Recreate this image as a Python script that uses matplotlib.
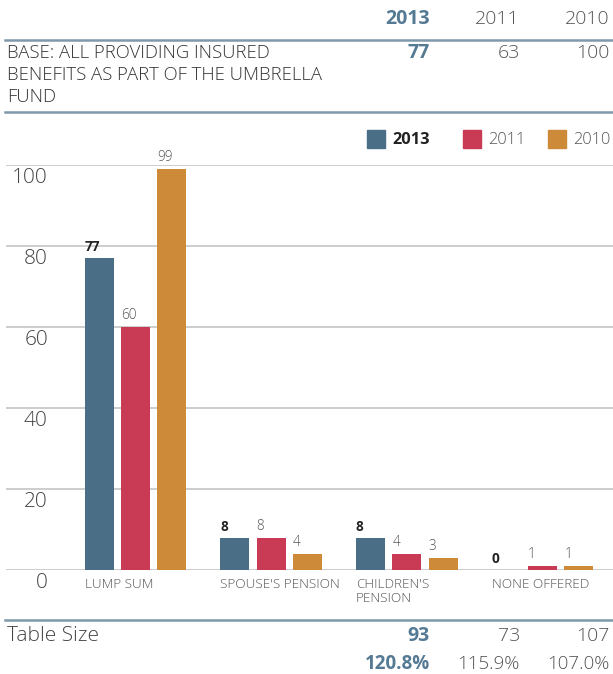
import matplotlib.pyplot as plt
from matplotlib.lines import Line2D
from matplotlib.patches import Rectangle
import numpy as np

plt.rcParams['font.family'] = ['Open Sans', 'DejaVu Sans']

# data
categories = ["LUMP SUM", "SPOUSE'S PENSION", "CHILDREN'S\nPENSION", "NONE OFFERED"]
years = ["2013", "2011", "2010"]
vals_2013 = [77, 8, 8, 0]
vals_2011 = [60, 8, 4, 1]
vals_2010 = [99, 4, 3, 1]
base_counts = [77, 63, 100]
table_size = [93, 73, 107]
table_pct = ["120.8%", "115.9%", "107.0%"]
yticks = [0, 20, 40, 60, 80, 100]

colors = ["#4b6e87", "#c93a55", "#cd8a38"]
hl_blue = "#557a94"
rule_col = "#7f98ab"
grey_txt = "#555555"

W, H = 613, 674
fig = plt.figure(figsize=(W / 100, H / 100), dpi=100)

def fx(px):
    return px / W

def fy(py):
    return 1 - py / H

# bar axes: y=0 at 570px, y=100 at 165px
ax = fig.add_axes([fx(6), fy(570), fx(607), (570 - 165) / H])
ax.set_ylim(0, 100)
ax.set_xlim(-0.954, 3.519)
ax.axis('off')

for v in yticks:
    ax.axhline(v, color="#c9c9c9", lw=1.3, zorder=0)
    ax.text(0.069, v - 3.2, str(v), transform=ax.get_yaxis_transform(),
            ha='right', va='center', fontsize=15, color="#444444", fontweight='light')

x = np.arange(len(categories))
step, bw = 0.268, 0.214
series = [vals_2013, vals_2011, vals_2010]
for j, vals in enumerate(series):
    xs = x + (j - 1) * step
    ax.bar(xs, vals, width=bw, color=colors[j], zorder=2)
    for xi, v in zip(xs, vals):
        ax.text(xi - bw / 2, v + 1.0, str(v), ha='left', va='bottom',
                fontsize=9.8, color="#222222" if j == 0 else grey_txt,
                fontweight='bold' if j == 0 else 'light', clip_on=False)

for i, c in enumerate(categories):
    ax.text(i - step - bw / 2, -1.9, c, ha='left', va='top', fontsize=9.7,
            color=grey_txt, linespacing=1.15, clip_on=False, fontweight='light')

# header table
col_x = [430, 520, 610]
for k, yr in enumerate(years):
    fig.text(fx(col_x[k]), fy(19), yr, ha='right', va='center', fontsize=14,
             color=hl_blue if k == 0 else grey_txt,
             fontweight='bold' if k == 0 else 'light')
for py in (40, 112, 620):
    fig.add_artist(Line2D([fx(5), fx(613)], [fy(py), fy(py)], color=rule_col, lw=1.8))

base_lines = ["BASE: ALL PROVIDING INSURED", "BENEFITS AS PART OF THE UMBRELLA", "FUND"]
for r, t in enumerate(base_lines):
    fig.text(fx(7), fy(53 + 22 * r), t, ha='left', va='center', fontsize=13.3,
             color="#333333", fontweight='light')
for k, n in enumerate(base_counts):
    fig.text(fx(col_x[k]), fy(53), str(n), ha='right', va='center', fontsize=14,
             color=hl_blue if k == 0 else grey_txt,
             fontweight='bold' if k == 0 else 'light')

# legend
leg_x = [367, 463, 548]
for k, yr in enumerate(years):
    fig.add_artist(Rectangle((fx(leg_x[k]), fy(148)), fx(18), 18 / H,
                             color=colors[k], transform=fig.transFigure))
    fig.text(fx(leg_x[k] + 25), fy(140), yr, ha='left', va='center', fontsize=11.8,
             color="#222222" if k == 0 else grey_txt,
             fontweight='bold' if k == 0 else 'light')

# table size rows
fig.text(fx(7), fy(636), "Table Size", ha='left', va='center', fontsize=15,
         color="#444444", fontweight='light')
for k in range(3):
    fig.text(fx(col_x[k]), fy(636), str(table_size[k]), ha='right', va='center', fontsize=14,
             color=hl_blue if k == 0 else grey_txt, fontweight='bold' if k == 0 else 'light')
    fig.text(fx(col_x[k]), fy(664), table_pct[k], ha='right', va='center', fontsize=13.5,
             color=hl_blue if k == 0 else grey_txt, fontweight='bold' if k == 0 else 'light')

fig.savefig("out.png", dpi=100)
